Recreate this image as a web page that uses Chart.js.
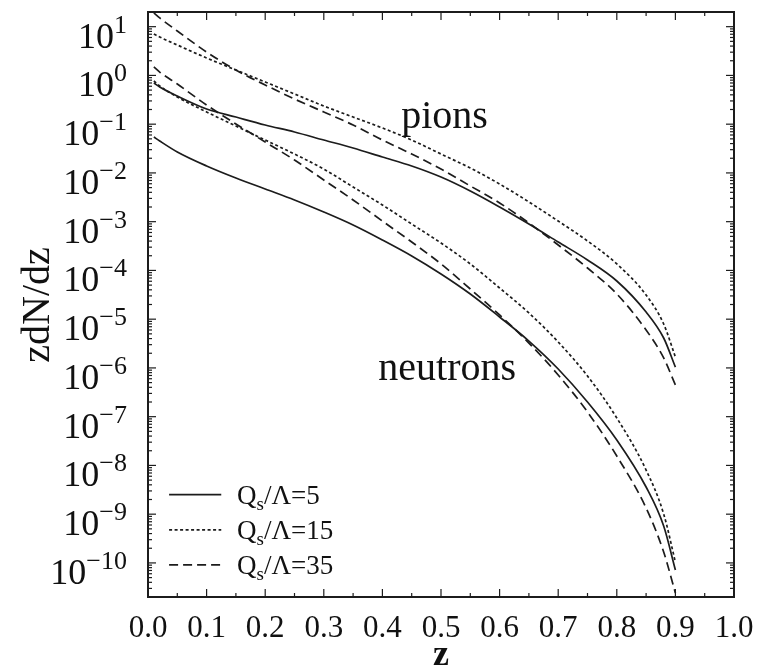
<!DOCTYPE html>
<html><head><meta charset="utf-8">
<script src="https://cdn.jsdelivr.net/npm/chart.js@4.4.0/dist/chart.umd.min.js"></script>
<style>html,body{margin:0;padding:0;background:#fff;}canvas{display:block;}</style>
</head><body>
<canvas id="c" width="761" height="666"></canvas>
<script>
// ---- data ----
const zValues = [0.01, 0.02, 0.05, 0.1, 0.15, 0.2, 0.25, 0.3, 0.35, 0.4, 0.45, 0.5, 0.55, 0.6, 0.65, 0.7, 0.75, 0.8, 0.85, 0.88, 0.9];

const pionQs5  = [0.700, 0.579, 0.378, 0.205, 0.140, 0.0962, 0.0692, 0.0473, 0.0324, 0.0212, 0.0139, 8.24e-3, 4.26e-3, 2.00e-3, 8.95e-4, 3.83e-4, 1.64e-4, 6.07e-5, 1.40e-5, 4.11e-6, 1.04e-6];
const pionQs15 = [7.08, 6.14, 4.21, 2.28, 1.29, 0.733, 0.416, 0.236, 0.140, 0.0836, 0.0473, 0.0244, 0.0126, 5.93e-3, 2.54e-3, 1.03e-3, 4.02e-4, 1.36e-4, 3.13e-5, 7.96e-6, 1.67e-6];
const pionQs35 = [19.1, 15.1, 8.15, 3.02, 1.29, 0.637, 0.328, 0.178, 0.0962, 0.0473, 0.0244, 0.0120, 5.40e-3, 2.42e-3, 9.40e-4, 3.33e-4, 1.12e-4, 3.29e-5, 6.00e-6, 1.60e-6, 4.47e-7];

const neutronQs5  = [0.0546, 0.0452, 0.0269, 0.0139, 7.87e-3, 4.68e-3, 2.79e-3, 1.58e-3, 8.55e-4, 4.21e-4, 1.98e-4, 8.45e-5, 3.28e-5, 1.11e-5, 3.56e-6, 9.51e-7, 2.00e-7, 3.33e-8, 3.61e-9, 5.71e-10, 7.16e-11];
const neutronQs15 = [0.769, 0.607, 0.361, 0.178, 0.0916, 0.0473, 0.0244, 0.0120, 5.14e-3, 2.20e-3, 8.95e-4, 3.65e-4, 1.36e-4, 4.36e-5, 1.34e-5, 3.40e-6, 6.82e-7, 9.40e-8, 8.05e-9, 1.01e-9, 1.04e-10];
const neutronQs35 = [1.49, 1.17, 0.667, 0.247, 0.101, 0.0431, 0.0184, 7.16e-3, 2.79e-3, 1.03e-3, 3.83e-4, 1.36e-4, 4.16e-5, 1.22e-5, 3.24e-6, 7.16e-7, 1.25e-7, 1.56e-8, 1.34e-9, 1.67e-10, 2.42e-11];

const legendLabels = ['5', '15', '35'];
const xTickLabels = ['0.0','0.1','0.2','0.3','0.4','0.5','0.6','0.7','0.8','0.9','1.0'];
const yTickExponents = [1, 0, -1, -2, -3, -4, -5, -6, -7, -8, -9, -10];

// ---- styles ----
const INK = '#1c1c1c';
const SERIF = '"Liberation Serif", "Times New Roman", serif';
const dashFor = { '5': [], '15': [3, 2.5], '35': [9, 5] };

function pts(arr) { return zValues.map((z, i) => ({ x: z, y: arr[i] })); }
function ds(label, arr, qs) {
  return {
    label: label, qs: qs, data: pts(arr),
    borderColor: INK, borderWidth: 1.7, borderDash: dashFor[qs],
    pointRadius: 0, fill: false, cubicInterpolationMode: 'monotone'
  };
}

const datasets = [
  ds('pions Qs/Λ=5', pionQs5, '5'),
  ds('pions Qs/Λ=15', pionQs15, '15'),
  ds('pions Qs/Λ=35', pionQs35, '35'),
  ds('neutrons Qs/Λ=5', neutronQs5, '5'),
  ds('neutrons Qs/Λ=15', neutronQs15, '15'),
  ds('neutrons Qs/Λ=35', neutronQs35, '35')
];

const decor = {
  id: 'decor',
  afterDraw(chart) {
    const { ctx, chartArea: a, scales: { x, y } } = chart;
    ctx.save();
    ctx.strokeStyle = INK;
    ctx.setLineDash([]);
    function seg(x1, y1, x2, y2) { ctx.beginPath(); ctx.moveTo(x1, y1); ctx.lineTo(x2, y2); ctx.stroke(); }

    // tick marks (inside, all four sides)
    ctx.lineWidth = 1.2;
    for (let i = 0; i <= 20; i++) {
      const px = x.getPixelForValue(i * 0.05);
      const len = (i % 2 === 0) ? 8 : 4;
      seg(px, a.bottom, px, a.bottom - len);
      seg(px, a.top, px, a.top + len);
    }
    for (let e = -12; e <= 2; e++) {
      for (let m = 1; m <= 9; m++) {
        const v = m * Math.pow(10, e);
        if (v < y.min || v > y.max) continue;
        const py = y.getPixelForValue(v);
        const len = (m === 1) ? 8 : 4;
        seg(a.left, py, a.left + len, py);
        seg(a.right, py, a.right - len, py);
      }
    }
    // frame
    ctx.lineWidth = 2;
    ctx.strokeRect(a.left, a.top, a.right - a.left, a.bottom - a.top);

    ctx.fillStyle = '#111';
    // x tick labels
    ctx.font = '31px ' + SERIF;
    ctx.textAlign = 'center';
    ctx.textBaseline = 'alphabetic';
    xTickLabels.forEach(t => {
      ctx.fillText(t, x.getPixelForValue(parseFloat(t)), a.bottom + 40);
    });
    // y tick labels 10^n
    const rightEdge = a.left - 21;
    yTickExponents.forEach(n => {
      const py = y.getPixelForValue(Math.pow(10, n));
      const ex = (n < 0 ? '\u2212' : '') + Math.abs(n);
      ctx.textAlign = 'right';
      ctx.font = '26px ' + SERIF;
      const ew = ctx.measureText(ex).width;
      ctx.fillText(ex, rightEdge, py + 6);
      ctx.font = '36px ' + SERIF;
      ctx.fillText('10', rightEdge - ew, py + 21);
    });
    // axis titles
    ctx.save();
    ctx.translate(49, 305);
    ctx.rotate(-Math.PI / 2);
    ctx.textAlign = 'center';
    ctx.font = '40px ' + SERIF;
    ctx.fillText('zdN/dz', 0, 0);
    ctx.restore();
    ctx.textAlign = 'center';
    ctx.font = 'bold 36px ' + SERIF;
    ctx.fillText('z', x.getPixelForValue(0.5), a.bottom + 68);

    // curve annotations
    ctx.textAlign = 'left';
    ctx.font = '40px ' + SERIF;
    ctx.fillText('pions', x.getPixelForValue(0.432), y.getPixelForValue(Math.pow(10, -1.07)));
    ctx.fillText('neutrons', x.getPixelForValue(0.393), y.getPixelForValue(Math.pow(10, -6.25)));

    // legend
    const seen = [];
    chart.data.datasets.forEach(d => { if (!seen.find(s => s.qs === d.qs)) seen.push(d); });
    const lx0 = x.getPixelForValue(0.036), lx1 = x.getPixelForValue(0.125), tx = x.getPixelForValue(0.152);
    seen.forEach((d, i) => {
      const ly = y.getPixelForValue(Math.pow(10, -8.6 - i * 0.72));
      ctx.lineWidth = d.borderWidth;
      ctx.setLineDash(d.borderDash);
      seg(lx0, ly, lx1, ly);
      ctx.setLineDash([]);
      let cx = tx;
      const base = ly + 9;
      ctx.font = '27px ' + SERIF;
      ctx.fillText('Q', cx, base); cx += ctx.measureText('Q').width;
      ctx.font = '19px ' + SERIF;
      ctx.fillText('s', cx, base + 6); cx += ctx.measureText('s').width;
      ctx.font = '27px ' + SERIF;
      ctx.fillText('/\u039B=' + legendLabels[i], cx, base);
    });
    ctx.restore();
  }
};

Chart.defaults.font.family = SERIF;
new Chart(document.getElementById('c'), {
  type: 'line',
  data: { datasets: datasets },
  options: {
    responsive: false,
    animation: false,
    devicePixelRatio: 1,
    layout: { padding: { left: 148, right: 27, top: 12, bottom: 69 } },
    plugins: { legend: { display: false }, tooltip: { enabled: false } },
    scales: {
      x: {
        type: 'linear', min: 0, max: 1,
        ticks: { display: false }, grid: { display: false, drawTicks: false }, border: { display: false }
      },
      y: {
        type: 'logarithmic', min: 2e-11, max: 20,
        ticks: { display: false }, grid: { display: false, drawTicks: false }, border: { display: false }
      }
    }
  },
  plugins: [decor]
});
</script>
</body></html>
